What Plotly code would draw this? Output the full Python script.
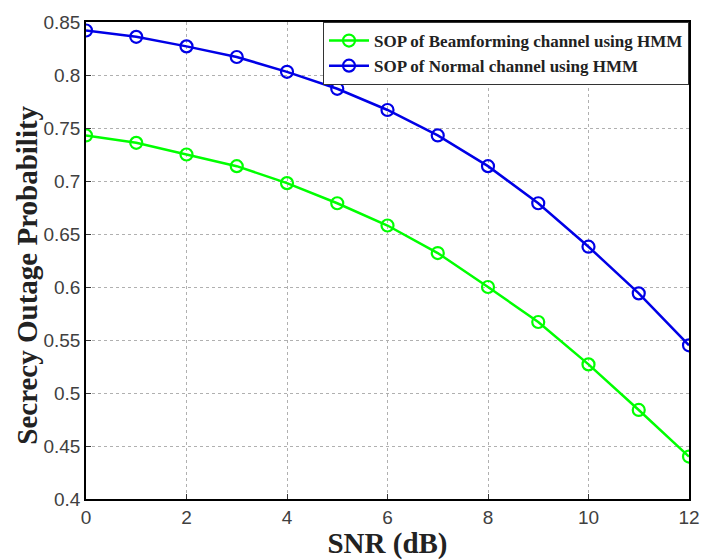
import plotly.graph_objects as go

snr = [0, 1, 2, 3, 4, 5, 6, 7, 8, 9, 10, 11, 12]
sop_beamforming = [0.743, 0.736, 0.725, 0.714, 0.698, 0.679, 0.658, 0.632, 0.600, 0.567, 0.527, 0.484, 0.440]
sop_normal = [0.842, 0.836, 0.827, 0.817, 0.803, 0.787, 0.767, 0.743, 0.714, 0.679, 0.638, 0.594, 0.545]
x_ticks = [0, 2, 4, 6, 8, 10, 12]
y_ticks = [0.4, 0.45, 0.5, 0.55, 0.6, 0.65, 0.7, 0.75, 0.8, 0.85]
y_tick_labels = ["0.4", "0.45", "0.5", "0.55", "0.6", "0.65", "0.7", "0.75", "0.8", "0.85"]

fig = go.Figure()
fig.add_trace(go.Scatter(
    x=snr, y=sop_beamforming, mode="lines+markers",
    name="<b>SOP of Beamforming channel using HMM</b>",
    line=dict(color="#00ff00", width=2.5),
    marker=dict(symbol="circle-open", size=12, color="#00ff00", line=dict(width=2.2, color="#00ff00")),
))
fig.add_trace(go.Scatter(
    x=snr, y=sop_normal, mode="lines+markers",
    name="<b>SOP of Normal channel using HMM</b>",
    line=dict(color="#0000e6", width=2.5),
    marker=dict(symbol="circle-open", size=12, color="#0000e6", line=dict(width=2.2, color="#0000e6")),
))

axis_common = dict(
    showgrid=True, gridcolor="#b0b0b0", griddash="dot", gridwidth=1,
    ticks="inside", ticklen=5, tickcolor="#333333",
    showline=True, linecolor="black", linewidth=1.5, mirror=True,
    tickfont=dict(family="Liberation Sans, Arial, sans-serif", size=19, color="#404040"),
    zeroline=False, automargin=False,
)

title_font = dict(family="Liberation Serif, Times New Roman, serif", size=29, color="#222222")

fig.update_layout(
    width=702, height=560,
    margin=dict(l=86, r=13, t=22, b=61),
    paper_bgcolor="white", plot_bgcolor="white",
    xaxis=dict(range=[0, 12], tickvals=x_ticks,
               title=dict(text="<b>SNR (dB)</b>", standoff=4, font=title_font),
               **axis_common),
    yaxis=dict(range=[0.4, 0.85], tickvals=y_ticks, ticktext=y_tick_labels,
               **axis_common),
    legend=dict(x=1, y=1, xanchor="right", yanchor="top",
                bgcolor="white", bordercolor="#333333", borderwidth=1,
                font=dict(family="Liberation Serif, Times New Roman, serif", size=17, color="#222222"),
                tracegroupgap=0, itemwidth=40),
    showlegend=True,
    annotations=[dict(
        text="<b>Secrecy Outage Probability</b>", textangle=-90,
        xref="paper", yref="paper", x=-0.098, y=0.47,
        xanchor="center", yanchor="middle", showarrow=False, font=title_font,
    )],
)

fig.write_html("out.html")
